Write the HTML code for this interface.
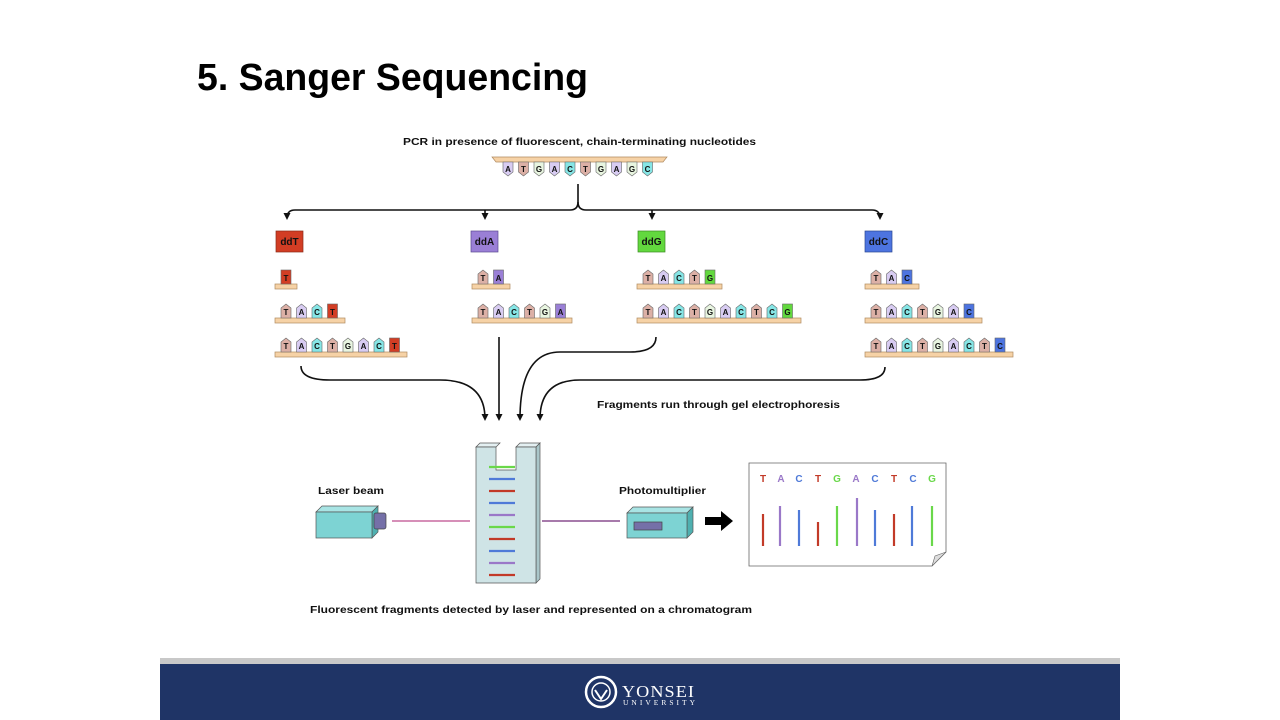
<!DOCTYPE html>
<html><head><meta charset="utf-8"><style>
html,body{margin:0;padding:0;background:#fff;width:1280px;height:720px;overflow:hidden}
svg{display:block}
text{font-family:"Liberation Sans",sans-serif}
.n{font-size:8px;font-weight:bold;text-anchor:middle;fill:#111}
.t{stroke:#666;stroke-width:.6}
.bar{fill:#f6d2a6;stroke:#b08a60;stroke-width:.7}
.lb{font-size:10px;font-weight:bold;fill:#111}
.T{fill:#dcb0a6}.A{fill:#d8ccf2}.C{fill:#86e6e6}.G{fill:#e8f5e0}
.TT{fill:#d23d24}.AA{fill:#9a7fd6}.GG{fill:#62d83e}.CC{fill:#4d74e0}
.serif{font-family:"Liberation Serif",serif}
</style></head><body>
<svg width="1280" height="720" viewBox="0 0 1280 720" xmlns="http://www.w3.org/2000/svg">
<defs>
<path id="u" d="M0,0V-10L5,-14L10,-10V0Z"/>
<path id="d" d="M0,0V10L5,14L10,10V0Z"/>
<marker id="ah" markerUnits="userSpaceOnUse" markerWidth="8" markerHeight="8" refX="5" refY="4" orient="auto"><path d="M0,0.5L7,4L0,7.5Z" fill="#111"/></marker>
</defs>
<text x="197" y="90" font-size="38" font-weight="bold" textLength="391" lengthAdjust="spacingAndGlyphs" fill="#000">5. Sanger Sequencing</text>

<text x="403" y="145" class="lb" textLength="353" lengthAdjust="spacingAndGlyphs">PCR in presence of fluorescent, chain-terminating nucleotides</text>
<!-- template -->
<path d="M492,157H667L663,162H496Z" class="bar"/>
<g class="t">
<use href="#d" x="503" y="162" class="A"/><use href="#d" x="518.5" y="162" class="T"/><use href="#d" x="534" y="162" class="G"/><use href="#d" x="549.5" y="162" class="A"/><use href="#d" x="565" y="162" class="C"/><use href="#d" x="580.5" y="162" class="T"/><use href="#d" x="596" y="162" class="G"/><use href="#d" x="611.5" y="162" class="A"/><use href="#d" x="627" y="162" class="G"/><use href="#d" x="642.5" y="162" class="C"/>
</g>
<g class="n">
<text x="508" y="172">A</text><text x="523.5" y="172">T</text><text x="539" y="172">G</text><text x="554.5" y="172">A</text><text x="570" y="172">C</text><text x="585.5" y="172">T</text><text x="601" y="172">G</text><text x="616.5" y="172">A</text><text x="632" y="172">G</text><text x="647.5" y="172">C</text>
</g>
<!-- brace -->
<g fill="none" stroke="#111" stroke-width="1.6">
<path d="M578,184V202Q578,210 570,210H295Q287,210 287,218" marker-end="url(#ah)"/>
<path d="M578,202Q578,210 586,210H872Q880,210 880,218" marker-end="url(#ah)"/>
<path d="M485,210V218" marker-end="url(#ah)"/>
<path d="M652,210V218" marker-end="url(#ah)"/>
</g>
<!-- dd labels -->
<rect x="276" y="231" width="27" height="21" fill="#d23d24" stroke="#8a2a18" stroke-width=".7"/><text x="289.5" y="245" class="lb" text-anchor="middle">ddT</text>
<rect x="471" y="231" width="27" height="21" fill="#9a7fd6" stroke="#5b4a90" stroke-width=".7"/><text x="484.5" y="245" class="lb" text-anchor="middle">ddA</text>
<rect x="638" y="231" width="27" height="21" fill="#62d83e" stroke="#3a8a22" stroke-width=".7"/><text x="651.5" y="245" class="lb" text-anchor="middle">ddG</text>
<rect x="865" y="231" width="27" height="21" fill="#4d74e0" stroke="#2a4690" stroke-width=".7"/><text x="878.5" y="245" class="lb" text-anchor="middle">ddC</text>

<!-- ddT -->
<rect x="275" y="284" width="22" height="5" class="bar"/>
<rect x="281" y="270" width="10" height="14" class="TT t"/>
<text x="286" y="281" class="n">T</text>
<rect x="275" y="318" width="70" height="5" class="bar"/>
<g class="t"><use href="#u" x="281" y="318" class="T"/><use href="#u" x="296.5" y="318" class="A"/><use href="#u" x="312" y="318" class="C"/></g>
<rect x="327.5" y="304" width="10" height="14" class="TT t"/>
<g class="n"><text x="286" y="315">T</text><text x="301.5" y="315">A</text><text x="317" y="315">C</text><text x="332.5" y="315">T</text></g>
<rect x="275" y="352" width="132" height="5" class="bar"/>
<g class="t"><use href="#u" x="281" y="352" class="T"/><use href="#u" x="296.5" y="352" class="A"/><use href="#u" x="312" y="352" class="C"/><use href="#u" x="327.5" y="352" class="T"/><use href="#u" x="343" y="352" class="G"/><use href="#u" x="358.5" y="352" class="A"/><use href="#u" x="374" y="352" class="C"/></g>
<rect x="389.5" y="338" width="10" height="14" class="TT t"/>
<g class="n"><text x="286" y="349">T</text><text x="301.5" y="349">A</text><text x="317" y="349">C</text><text x="332.5" y="349">T</text><text x="348" y="349">G</text><text x="363.5" y="349">A</text><text x="379" y="349">C</text><text x="394.5" y="349">T</text></g>

<!-- ddA -->
<rect x="472" y="284" width="38" height="5" class="bar"/>
<g class="t"><use href="#u" x="478" y="284" class="T"/></g>
<rect x="493.5" y="270" width="10" height="14" class="AA t"/>
<g class="n"><text x="483" y="281">T</text><text x="498.5" y="281">A</text></g>
<rect x="472" y="318" width="100" height="5" class="bar"/>
<g class="t"><use href="#u" x="478" y="318" class="T"/><use href="#u" x="493.5" y="318" class="A"/><use href="#u" x="509" y="318" class="C"/><use href="#u" x="524.5" y="318" class="T"/><use href="#u" x="540" y="318" class="G"/></g>
<rect x="555.5" y="304" width="10" height="14" class="AA t"/>
<g class="n"><text x="483" y="315">T</text><text x="498.5" y="315">A</text><text x="514" y="315">C</text><text x="529.5" y="315">T</text><text x="545" y="315">G</text><text x="560.5" y="315">A</text></g>

<!-- ddG -->
<rect x="637" y="284" width="85" height="5" class="bar"/>
<g class="t"><use href="#u" x="643" y="284" class="T"/><use href="#u" x="658.5" y="284" class="A"/><use href="#u" x="674" y="284" class="C"/><use href="#u" x="689.5" y="284" class="T"/></g>
<rect x="705" y="270" width="10" height="14" class="GG t"/>
<g class="n"><text x="648" y="281">T</text><text x="663.5" y="281">A</text><text x="679" y="281">C</text><text x="694.5" y="281">T</text><text x="710" y="281">G</text></g>
<rect x="637" y="318" width="164" height="5" class="bar"/>
<g class="t"><use href="#u" x="643" y="318" class="T"/><use href="#u" x="658.5" y="318" class="A"/><use href="#u" x="674" y="318" class="C"/><use href="#u" x="689.5" y="318" class="T"/><use href="#u" x="705" y="318" class="G"/><use href="#u" x="720.5" y="318" class="A"/><use href="#u" x="736" y="318" class="C"/><use href="#u" x="751.5" y="318" class="T"/><use href="#u" x="767" y="318" class="C"/></g>
<rect x="782.5" y="304" width="10" height="14" class="GG t"/>
<g class="n"><text x="648" y="315">T</text><text x="663.5" y="315">A</text><text x="679" y="315">C</text><text x="694.5" y="315">T</text><text x="710" y="315">G</text><text x="725.5" y="315">A</text><text x="741" y="315">C</text><text x="756.5" y="315">T</text><text x="772" y="315">C</text><text x="787.5" y="315">G</text></g>

<!-- ddC -->
<rect x="865" y="284" width="54" height="5" class="bar"/>
<g class="t"><use href="#u" x="871" y="284" class="T"/><use href="#u" x="886.5" y="284" class="A"/></g>
<rect x="902" y="270" width="10" height="14" class="CC t"/>
<g class="n"><text x="876" y="281">T</text><text x="891.5" y="281">A</text><text x="907" y="281">C</text></g>
<rect x="865" y="318" width="117" height="5" class="bar"/>
<g class="t"><use href="#u" x="871" y="318" class="T"/><use href="#u" x="886.5" y="318" class="A"/><use href="#u" x="902" y="318" class="C"/><use href="#u" x="917.5" y="318" class="T"/><use href="#u" x="933" y="318" class="G"/><use href="#u" x="948.5" y="318" class="A"/></g>
<rect x="964" y="304" width="10" height="14" class="CC t"/>
<g class="n"><text x="876" y="315">T</text><text x="891.5" y="315">A</text><text x="907" y="315">C</text><text x="922.5" y="315">T</text><text x="938" y="315">G</text><text x="953.5" y="315">A</text><text x="969" y="315">C</text></g>
<rect x="865" y="352" width="148" height="5" class="bar"/>
<g class="t"><use href="#u" x="871" y="352" class="T"/><use href="#u" x="886.5" y="352" class="A"/><use href="#u" x="902" y="352" class="C"/><use href="#u" x="917.5" y="352" class="T"/><use href="#u" x="933" y="352" class="G"/><use href="#u" x="948.5" y="352" class="A"/><use href="#u" x="964" y="352" class="C"/><use href="#u" x="979.5" y="352" class="T"/></g>
<rect x="995" y="338" width="10" height="14" class="CC t"/>
<g class="n"><text x="876" y="349">T</text><text x="891.5" y="349">A</text><text x="907" y="349">C</text><text x="922.5" y="349">T</text><text x="938" y="349">G</text><text x="953.5" y="349">A</text><text x="969" y="349">C</text><text x="984.5" y="349">T</text><text x="1000" y="349">C</text></g>

<!-- converging arrows -->
<g fill="none" stroke="#111" stroke-width="1.6">
<path d="M301,366Q301,380 330,380H440Q485,380 485,419" marker-end="url(#ah)"/>
<path d="M499,337V419" marker-end="url(#ah)"/>
<path d="M656,337Q656,352 630,352H560Q520,352 520,419" marker-end="url(#ah)"/>
<path d="M885,367Q885,380 860,380H580Q540,380 540,419" marker-end="url(#ah)"/>
</g>
<text x="597" y="408" class="lb" textLength="243" lengthAdjust="spacingAndGlyphs">Fragments run through gel electrophoresis</text>

<!-- laser -->
<text x="318" y="494" class="lb" textLength="66" lengthAdjust="spacingAndGlyphs">Laser beam</text>
<path d="M316,512L322,506H378L372,512Z" fill="#a8e4e4" stroke="#555" stroke-width=".7"/>
<path d="M372,512L378,506V532L372,538Z" fill="#4fb0b0" stroke="#555" stroke-width=".7"/>
<rect x="316" y="512" width="56" height="26" fill="#7dd3d3" stroke="#555" stroke-width=".7"/>
<rect x="374" y="513" width="12" height="16" rx="2" fill="#7570a8" stroke="#444" stroke-width=".7"/>
<line x1="392" y1="521" x2="470" y2="521" stroke="#c86aa0" stroke-width="1.5"/>
<line x1="542" y1="521" x2="620" y2="521" stroke="#8a4f8f" stroke-width="1.5"/>
<!-- gel -->
<path d="M476,447L480,443H500L496,447ZM516,447L520,443H540L536,447Z" fill="#e4f0f2" stroke="#555" stroke-width=".7"/>
<path d="M536,447L540,443V579L536,583Z" fill="#a9c6c9" stroke="#555" stroke-width=".7"/>
<path d="M476,447H496V470H516V447H536V583H476Z" fill="#cfe4e6" stroke="#555" stroke-width=".7"/>
<g stroke-width="2.2">
<line x1="489" x2="515" y1="467" y2="467" stroke="#6ad84a"/>
<line x1="489" x2="515" y1="479" y2="479" stroke="#4f7ad8"/>
<line x1="489" x2="515" y1="491" y2="491" stroke="#c23a28"/>
<line x1="489" x2="515" y1="503" y2="503" stroke="#4f7ad8"/>
<line x1="489" x2="515" y1="515" y2="515" stroke="#9a78c8"/>
<line x1="489" x2="515" y1="527" y2="527" stroke="#6ad84a"/>
<line x1="489" x2="515" y1="539" y2="539" stroke="#c23a28"/>
<line x1="489" x2="515" y1="551" y2="551" stroke="#4f7ad8"/>
<line x1="489" x2="515" y1="563" y2="563" stroke="#9a78c8"/>
<line x1="489" x2="515" y1="575" y2="575" stroke="#c23a28"/>
</g>
<!-- photomultiplier -->
<text x="619" y="494" class="lb" textLength="87" lengthAdjust="spacingAndGlyphs">Photomultiplier</text>
<path d="M627,513L633,507H693L687,513Z" fill="#a8e4e4" stroke="#555" stroke-width=".7"/>
<path d="M687,513L693,507V532L687,538Z" fill="#4fb0b0" stroke="#555" stroke-width=".7"/>
<rect x="627" y="513" width="60" height="25" fill="#7dd3d3" stroke="#555" stroke-width=".7"/>
<rect x="634" y="522" width="28" height="8" fill="#7570a8" stroke="#444" stroke-width=".7"/>
<path d="M705,517H721V511L733,521L721,531V525H705Z" fill="#000"/>
<!-- chromatogram -->
<path d="M749,463H946V552L932,566H749Z" fill="#fff" stroke="#666" stroke-width=".8"/>
<path d="M946,552L932,566L935,556Z" fill="#ddd" stroke="#666" stroke-width=".6"/>
<g font-size="10" font-weight="bold" text-anchor="middle">
<text x="763" y="482" fill="#c23a28">T</text><text x="781" y="482" fill="#9a78c8">A</text><text x="799" y="482" fill="#4f7ad8">C</text><text x="818" y="482" fill="#c23a28">T</text><text x="837" y="482" fill="#6ad84a">G</text><text x="856" y="482" fill="#9a78c8">A</text><text x="875" y="482" fill="#4f7ad8">C</text><text x="894" y="482" fill="#c23a28">T</text><text x="913" y="482" fill="#4f7ad8">C</text><text x="932" y="482" fill="#6ad84a">G</text>
</g>
<g stroke-width="2.2">
<line x1="763" x2="763" y1="514" y2="546" stroke="#c23a28"/>
<line x1="780" x2="780" y1="506" y2="546" stroke="#9a78c8"/>
<line x1="799" x2="799" y1="510" y2="546" stroke="#4f7ad8"/>
<line x1="818" x2="818" y1="522" y2="546" stroke="#c23a28"/>
<line x1="837" x2="837" y1="506" y2="546" stroke="#6ad84a"/>
<line x1="857" x2="857" y1="498" y2="546" stroke="#9a78c8"/>
<line x1="875" x2="875" y1="510" y2="546" stroke="#4f7ad8"/>
<line x1="894" x2="894" y1="514" y2="546" stroke="#c23a28"/>
<line x1="912" x2="912" y1="506" y2="546" stroke="#4f7ad8"/>
<line x1="932" x2="932" y1="506" y2="546" stroke="#6ad84a"/>
</g>
<text x="310" y="613" class="lb" textLength="442" lengthAdjust="spacingAndGlyphs">Fluorescent fragments detected by laser and represented on a chromatogram</text>

<!-- footer -->
<rect x="160" y="658" width="960" height="6" fill="#c8c8c8"/>
<rect x="160" y="664" width="960" height="56" fill="#1f3466"/>
<circle cx="601" cy="692" r="15" fill="none" stroke="#fff" stroke-width="2.5"/>
<circle cx="601" cy="692" r="9" fill="none" stroke="#fff" stroke-width="1.5"/>
<path d="M595,690L601,699L607,690" fill="none" stroke="#fff" stroke-width="2"/>
<text x="622" y="697" class="serif" font-size="17" fill="#fff" letter-spacing="1" textLength="73" lengthAdjust="spacingAndGlyphs">YONSEI</text>
<text x="623" y="705" class="serif" font-size="7.5" fill="#fff" textLength="72" lengthAdjust="spacing">UNIVERSITY</text>
</svg>
</body></html>
